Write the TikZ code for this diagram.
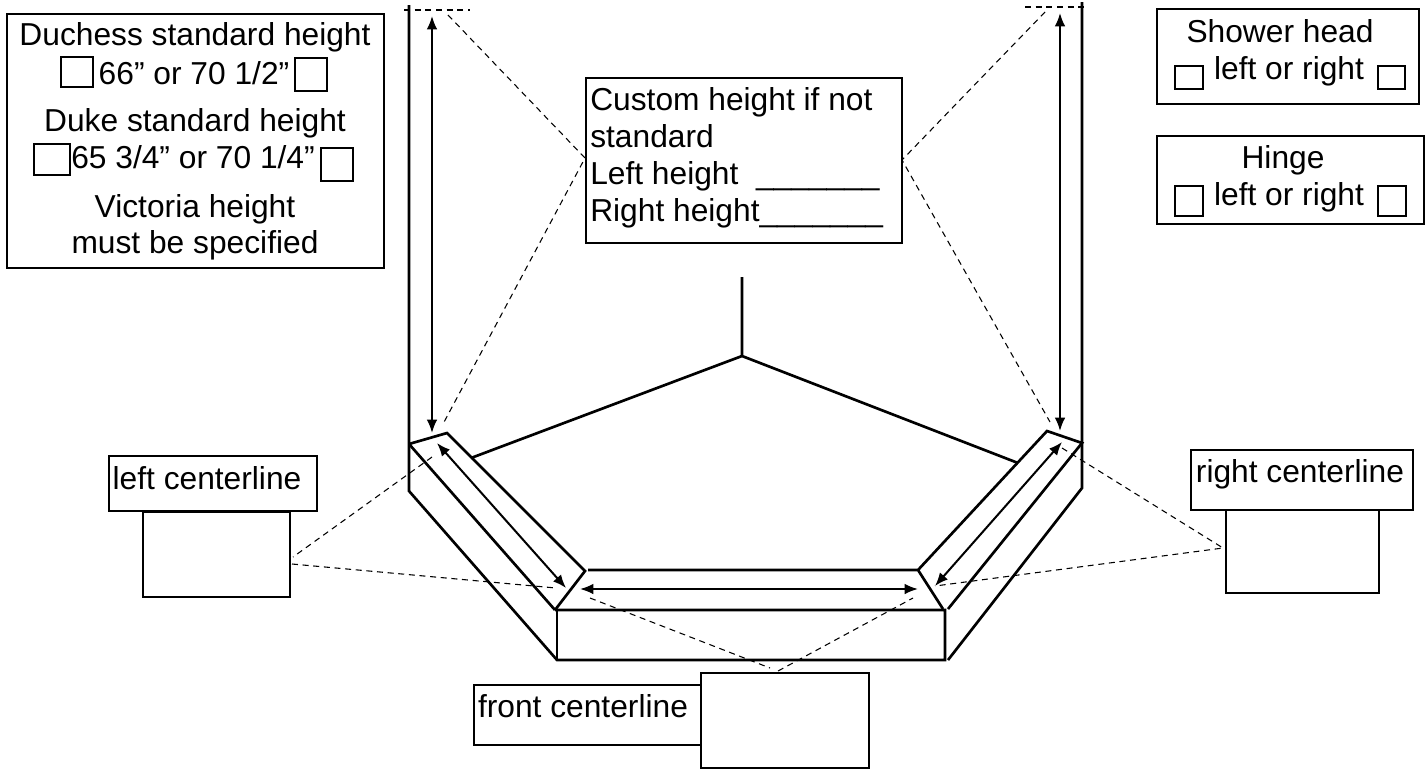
\documentclass[tikz,border=0pt]{standalone}
\usepackage{fontspec}
\setmainfont{Liberation Sans}
\usetikzlibrary{arrows.meta}
\tikzset{
  box/.style={draw,line width=1.7pt,inner sep=0pt,anchor=north west},
  txt/.style={inner sep=0pt,anchor=base,font=\fontsize{23.8}{27}\selectfont},
  guide/.style={line width=0.8pt,dash pattern=on 4.5pt off 3.5pt},
  wall/.style={line width=2pt},
  dim/.style={line width=1.5pt,{Latex[length=10pt,width=8pt]}-{Latex[length=10pt,width=8pt]}}
}
\begin{document}
\begin{tikzpicture}[x=0.75pt,y=-0.75pt]
  \useasboundingbox (0,0) rectangle (1426,768);

  % tub outline
  \coordinate (lt) at (409,444);
  \coordinate (li) at (447,433);
  \coordinate (lb) at (409,491);
  \coordinate (fl) at (555,610);
  \coordinate (fb) at (557,660);
  \coordinate (fi) at (585,571);
  \coordinate (gi) at (918,570);
  \coordinate (gl) at (945,610);
  \coordinate (gb) at (945,660);
  \coordinate (rt) at (1082,443);
  \coordinate (ri) at (1047,431);
  \coordinate (rb) at (1082,488);
  \coordinate (cor) at (742,356);

  \draw[wall] (409,5) -- (lb) -- (fb) -- (gb) -- (gl) -- (fl);
  \draw[wall] (557,610) -- (fb);
  \draw[wall] (1082,2) -- (rb) -- (948,660);
  \draw[wall] (lt) -- (li) -- (fi) -- (fl) (lt) -- (fl);
  \draw[wall] (588,570) -- (gi) -- (943,609) (gi) -- (ri) -- (rt) -- (948,609);
  \draw[wall] (742,277) -- (cor) -- (471,458) (cor) -- (1018,463);

  % dimensions
  \draw[dim] (432,16) -- (432,433);
  \draw[dim] (1060,13) -- (1060,431);
  \draw[dim] (437,443) -- (566,588);
  \draw[dim] (580,589) -- (918,589);
  \draw[dim] (1062,442) -- (935,586);

  \foreach \x/\w/\y/\h/\n in {
    6/377/13/254/stdbox,
    585/316/77/165/custombox,
    1156/262/8/95/showerbox,
    1156/267/135/88/hingebox,
    108/208/455/55/leftlabel,
    142/147/511/85/leftbox,
    1190/222/449/60/rightlabel,
    1225/153/509/83/rightbox,
    473/227/684/60/frontlabel,
    700/168/672/95/frontbox,
    60/32/56/30/a,
    294/32/57/33/b,
    33/36/143/31/c,
    320/32/147/33/d,
    1174/28/65/23/e,
    1377/27/65/23/f,
    1174/28/185/30/g,
    1377/28/185/30/h}
    \node[box,minimum width=\w*0.75pt,minimum height=\h*0.75pt] (\n) at (\x,\y) {};

  % guides
  \coordinate (customl) at (585,158);
  \coordinate (customr) at (902,160);
  \draw[guide] (404,10) -- (470,10);
  \draw[guide] (1025,7) -- (1086,7);
  \draw[guide] (448,15) -- (customl) -- (443,424);
  \draw[guide] (1045,12) -- (customr) -- (1050,422);
  \draw[guide] (432,457) -- (293,557);
  \draw[guide] (292,564) -- (556,588);
  \draw[guide] (1062,448) -- (1223,548) -- (935,586);
  \draw[guide] (590,598) -- (770,668);
  \draw[guide] (778,671) -- (913,598);

  % labels
  \node[txt] (t1) at (195,45) {Duchess standard height};
  \node[txt] (t2) at (194,84) {66” or 70 1/2”};
  \node[txt] (t3) at (195,131) {Duke standard height};
  \node[txt] (t4) at (193,168) {65 3/4” or 70 1/4”};
  \node[txt] (t5) at (195,217) {Victoria height};
  \node[txt] (t6) at (195,253) {must be specified};
  \node[txt] (t7) at (1280,42) {Shower head};
  \node[txt] (t8) at (1289,79) {left or right};
  \node[txt] (t9) at (1283,168) {Hinge};
  \node[txt] (t10) at (1289,205) {left or right};
  \node[txt,anchor=base west] (t11) at (590,110) {Custom height if not};
  \node[txt,anchor=base west] (t12) at (590,147) {standard};
  \node[txt,anchor=base west] (t13) at (590,184) {Left height\ \ \_\_\_\_\_\_\_};
  \node[txt,anchor=base west] (t14) at (590,221) {Right height\_\_\_\_\_\_\_};
  \node[txt] (t15) at (207,489) {left centerline};
  \node[txt] (t16) at (1300,482) {right centerline};
  \node[txt] (t17) at (583,717) {front centerline};
\end{tikzpicture}
\end{document}
